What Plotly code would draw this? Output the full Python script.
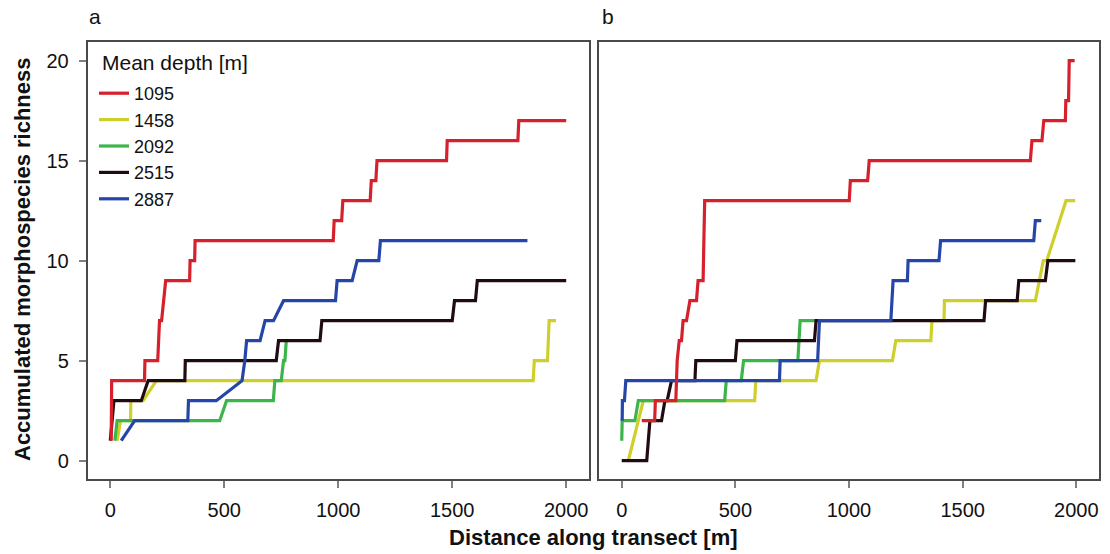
import plotly.graph_objects as go

# Mean depths of the five transects (legend labels)
depths = ["1095", "1458", "2092", "2515", "2887"]
colors = ["#D6202B", "#CFCF2C", "#3DB54B", "#200B12", "#2545A8"]

# Panel a: accumulated morphospecies richness along each transect
a_1095_x = [4, 6, 150, 152, 208, 212, 216, 225, 234, 243, 348, 350, 370, 372, 978, 982,
            1015, 1020, 1140, 1145, 1165, 1170, 1475, 1478, 1788, 1792, 2000]
a_1095_y = [1, 4, 4, 5, 5, 6, 7, 7, 8, 9, 9, 10, 10, 11, 11, 12,
            12, 13, 13, 14, 14, 15, 15, 16, 16, 17, 17]
a_1458_x = [30, 45, 89, 90, 144, 202, 1855, 1860, 1918, 1925, 1955]
a_1458_y = [1, 2, 2, 3, 3, 4, 4, 5, 5, 7, 7]
a_2092_x = [20, 30, 480, 510, 715, 722, 750, 760, 766, 772]
a_2092_y = [1, 2, 2, 3, 3, 4, 4, 5, 5, 6]
a_2515_x = [0, 16, 136, 166, 327, 329, 728, 738, 920, 928, 1500, 1510, 1602, 1610, 2000]
a_2515_y = [1, 3, 3, 4, 4, 5, 5, 6, 6, 7, 7, 8, 8, 9, 9]
a_2887_x = [48, 107, 340, 343, 465, 578, 590, 598, 657, 679, 716, 760, 988, 995,
            1061, 1083, 1178, 1185, 1830]
a_2887_y = [1, 2, 2, 3, 3, 4, 5, 6, 6, 7, 7, 8, 8, 9,
            9, 10, 10, 11, 11]

# Panel b
b_1095_x = [88, 145, 148, 238, 244, 253, 263, 270, 285, 300, 329, 336, 358, 365,
            1001, 1006, 1082, 1089, 1798, 1805, 1849, 1857, 1952, 1954, 1966, 1969, 1993]
b_1095_y = [2, 2, 3, 3, 5, 6, 6, 7, 7, 8, 8, 9, 9, 13,
            13, 14, 14, 15, 15, 16, 16, 17, 17, 18, 18, 20, 20]
b_1458_x = [29, 95, 585, 590, 855, 870, 1191, 1206, 1360, 1365, 1418, 1420, 1820,
            1855, 1870, 1955, 1995]
b_1458_y = [0, 3, 3, 4, 4, 5, 5, 6, 6, 7, 7, 8, 8, 10, 10, 13, 13]
b_2092_x = [0, 2, 58, 73, 453, 460, 526, 536, 775, 785, 855]
b_2092_y = [1, 2, 2, 3, 3, 4, 4, 5, 5, 7, 7]
b_2515_x = [0, 110, 124, 175, 190, 200, 219, 322, 326, 500, 507, 848, 855, 1594, 1601,
            1740, 1747, 1864, 1875, 1996]
b_2515_y = [0, 0, 2, 2, 3, 3, 4, 4, 5, 5, 6, 6, 7, 7, 8,
            8, 9, 9, 10, 10]
b_2887_x = [2, 3, 12, 18, 694, 697, 862, 870, 1184, 1190, 1194, 1257, 1260, 1396, 1403,
            1813, 1820, 1846]
b_2887_y = [2, 3, 3, 4, 4, 5, 5, 7, 7, 8, 9, 9, 10, 10, 11,
            11, 12, 12]

panel_a = [(a_1095_x, a_1095_y), (a_1458_x, a_1458_y), (a_2092_x, a_2092_y),
           (a_2515_x, a_2515_y), (a_2887_x, a_2887_y)]
panel_b = [(b_1095_x, b_1095_y), (b_1458_x, b_1458_y), (b_2092_x, b_2092_y),
           (b_2515_x, b_2515_y), (b_2887_x, b_2887_y)]

x_ticks = [0, 500, 1000, 1500, 2000]
y_ticks = [0, 5, 10, 15, 20]

FONT = "Liberation Sans, Arial, Helvetica, sans-serif"
W, H = 1110, 554

# drawing order: yellow, green, black, blue, red on top
draw_order = [1, 2, 3, 4, 0]

fig = go.Figure()
for panel, (xa, ya) in ((panel_a, ("x", "y")), (panel_b, ("x2", "y2"))):
    for i in draw_order:
        xs, ys = panel[i]
        fig.add_trace(go.Scatter(
            x=xs, y=ys, mode="lines",
            line=dict(color=colors[i], width=3.2),
            name=depths[i], legendrank=i + 1,
            showlegend=(xa == "x"),
            xaxis=xa, yaxis=ya, hoverinfo="skip",
        ))

x_left = (87.5 / W, 589 / W)
x_right = (599 / W, 1099 / W)
y_dom = ((H - 479.3) / H, (H - 41.7) / H)

axis_common = dict(
    showline=True, mirror=True, linecolor="#4a4a4a", linewidth=1.5,
    showgrid=False, zeroline=False,
    ticks="outside", ticklen=7, tickwidth=1.5, tickcolor="#808080",
    tickfont=dict(family=FONT, size=20, color="#111"),
)

fig.update_layout(
    width=W, height=H,
    margin=dict(l=0, r=0, t=0, b=0),
    paper_bgcolor="white", plot_bgcolor="white",
    font=dict(family=FONT, color="#111"),
    xaxis=dict(domain=x_left, range=[-100, 2100], tickvals=x_ticks, anchor="y",
               ticklabelstandoff=5, **axis_common),
    yaxis=dict(domain=y_dom, range=[-0.93, 20.95], tickvals=y_ticks, anchor="x",
               ticklabelstandoff=6, **axis_common),
    xaxis2=dict(domain=x_right, range=[-100, 2100], tickvals=x_ticks, anchor="y2",
                ticklabelstandoff=5, **axis_common),
    yaxis2=dict(domain=y_dom, range=[-0.93, 20.95], anchor="x2",
                showline=True, mirror=True, linecolor="#4a4a4a", linewidth=1.5,
                showgrid=False, zeroline=False, showticklabels=False, ticks=""),
    legend=dict(
        x=94 / W, y=(H - 75) / H, xanchor="left", yanchor="top",
        bgcolor="rgba(0,0,0,0)", borderwidth=0,
        font=dict(family=FONT, size=18, color="#111"),
        traceorder="normal",
    ),
    showlegend=True,
    annotations=[
        dict(text="Mean depth [m]", x=100 / W, y=(H - 63) / H, xref="paper", yref="paper",
             xanchor="left", yanchor="middle", showarrow=False,
             font=dict(family=FONT, size=21, color="#111")),
        dict(text="a", x=95 / W, y=(H - 17) / H, xref="paper", yref="paper",
             xanchor="center", yanchor="middle", showarrow=False,
             font=dict(family=FONT, size=21, color="#111")),
        dict(text="b", x=608 / W, y=(H - 17) / H, xref="paper", yref="paper",
             xanchor="center", yanchor="middle", showarrow=False,
             font=dict(family=FONT, size=21, color="#111")),
        dict(text="<b>Accumulated morphospecies richness</b>", x=22 / W, y=(H - 260) / H,
             xref="paper", yref="paper", xanchor="center", yanchor="middle",
             showarrow=False, textangle=-90,
             font=dict(family=FONT, size=22, color="#111")),
        dict(text="<b>Distance along transect [m]</b>", x=593 / W, y=(H - 537) / H,
             xref="paper", yref="paper", xanchor="center", yanchor="middle",
             showarrow=False,
             font=dict(family=FONT, size=22, color="#111")),
    ],
)

fig.write_html("out.html")
